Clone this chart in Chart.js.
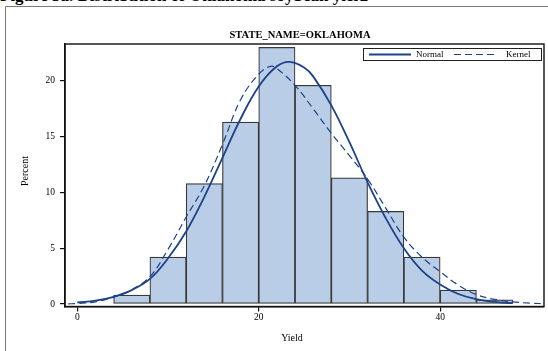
<!DOCTYPE html>
<html>
<head>
<meta charset="utf-8">
<script src="https://cdn.jsdelivr.net/npm/chart.js@4"></script>
<style>
  body { margin: 0; background: #fff; overflow: hidden; }
  #wrap { position: relative; width: 548px; height: 351px; }
  #caption {
    position: absolute; left: 0; top: -14px; white-space: nowrap;
    font: bold 17px "Liberation Serif", serif; color: #000;
  }
  canvas { position: absolute; left: 0; top: 0; }
</style>
</head>
<body>
<div id="wrap">
  <div id="caption">Figure 5a. Distribution of Oklahoma soybean yield</div>
  <canvas id="chart" width="548" height="351"></canvas>
</div>
<script>
// Histogram bins (midpoints) and percent per bin
const binMids = [6, 10, 14, 18, 22, 26, 30, 34, 38, 42, 46];
const binPercent = [0.8, 4.2, 10.8, 16.3, 23.0, 19.6, 11.3, 8.3, 4.2, 1.25, 0.38];

// Normal curve
const normalX = [0, 2, 4, 6, 8, 10, 12, 14, 16, 18, 20, 22, 23.4, 25, 26, 28, 30, 32, 34, 36, 38, 40, 42, 44, 46, 48];
const normalY = [0.14, 0.3, 0.65, 1.25, 2.25, 4.1, 6.5, 9.6, 13.1, 16.6, 19.5, 21.3, 21.7, 21.2, 20.4, 17.8, 14.5, 10.9, 7.7, 5.0, 3.0, 1.75, 0.9, 0.45, 0.2, 0.08];

// Kernel curve
const kernelX = [-1, 0, 2, 4, 6, 8, 10, 12, 14, 16, 18, 20, 21.3, 22, 24, 26, 28, 30, 32, 34, 36, 38, 40, 42, 44, 46, 48, 50, 51.4];
const kernelY = [0.02, 0.05, 0.2, 0.62, 1.3, 2.45, 4.9, 7.8, 10.6, 14.3, 18.3, 20.6, 21.3, 21.1, 19.6, 17.5, 15.3, 13.3, 11.2, 8.6, 6.0, 4.2, 2.9, 1.7, 0.85, 0.42, 0.2, 0.07, 0.04];

const xTicks = [0, 20, 40];
const yTicks = [0, 5, 10, 15, 20];

const chartTitle = 'STATE_NAME=OKLAHOMA';
const xTitle = 'Yield';
const yTitle = 'Percent';

const curveColor = '#1c4289';
const serif = '"Liberation Serif", "Times New Roman", serif';

const pts = (xs, ys) => xs.map((x, i) => ({ x: x, y: ys[i] }));

// frame, titles and legend drawn on top of the chart
const decor = {
  id: 'decor',
  afterDraw(chart) {
    const ctx = chart.ctx;
    const a = chart.chartArea;
    ctx.save();
    // outer figure frame
    ctx.strokeStyle = '#7a7a7a';
    ctx.lineWidth = 1;
    ctx.beginPath();
    ctx.moveTo(5.5, 351);
    ctx.lineTo(5.5, 6.5);
    ctx.lineTo(548, 6.5);
    ctx.stroke();
    // plot frame
    ctx.strokeStyle = '#111';
    ctx.lineWidth = 1.4;
    ctx.strokeRect(a.left, a.top, a.right - a.left, a.bottom - a.top);

    ctx.fillStyle = '#000';
    ctx.textAlign = 'center';
    ctx.textBaseline = 'middle';
    ctx.font = 'bold 10.5px ' + serif;
    ctx.fillText(chartTitle, 300, 35);
    ctx.font = '10px ' + serif;
    ctx.fillText(xTitle, 292, 338);
    ctx.save();
    ctx.translate(25, 171);
    ctx.rotate(-Math.PI / 2);
    ctx.fillText(yTitle, 0, 0);
    ctx.restore();

    // legend
    ctx.fillStyle = '#fff';
    ctx.fillRect(363, 48.5, 178, 12);
    ctx.strokeStyle = '#222';
    ctx.lineWidth = 1;
    ctx.strokeRect(363.5, 48.5, 178, 12);
    ctx.strokeStyle = curveColor;
    ctx.lineWidth = 1.8;
    ctx.beginPath();
    ctx.moveTo(369, 54.5);
    ctx.lineTo(411, 54.5);
    ctx.stroke();
    ctx.lineWidth = 1.2;
    ctx.setLineDash([7, 4]);
    ctx.beginPath();
    ctx.moveTo(454, 54.5);
    ctx.lineTo(498, 54.5);
    ctx.stroke();
    ctx.setLineDash([]);
    ctx.fillStyle = '#000';
    ctx.font = '9px ' + serif;
    ctx.textAlign = 'left';
    ctx.fillText('Normal', 416, 55);
    ctx.fillText('Kernel', 506, 55);
    ctx.restore();
  }
};

new Chart(document.getElementById('chart'), {
  type: 'bar',
  data: {
    datasets: [
      {
        type: 'line',
        label: 'Normal',
        data: pts(normalX, normalY),
        borderColor: curveColor,
        borderWidth: 1.8,
        pointRadius: 0,
        fill: false,
        tension: 0.4,
        order: 0
      },
      {
        type: 'line',
        label: 'Kernel',
        data: pts(kernelX, kernelY),
        borderColor: curveColor,
        borderWidth: 1.2,
        borderDash: [7, 4],
        pointRadius: 0,
        fill: false,
        tension: 0.4,
        order: 1
      },
      {
        label: 'Percent',
        data: pts(binMids, binPercent),
        backgroundColor: '#b9cde6',
        borderColor: '#383838',
        borderWidth: 1.2,
        borderSkipped: false,
        barPercentage: 1,
        categoryPercentage: 1,
        grouped: false,
        order: 2
      }
    ]
  },
  options: {
    responsive: false,
    animation: false,
    layout: { padding: { top: 44, right: 4, left: 0, bottom: 0 } },
    plugins: {
      legend: { display: false },
      tooltip: { enabled: false }
    },
    scales: {
      x: {
        type: 'linear',
        min: -1.36,
        max: 51.45,
        offset: false,
        afterFit: (s) => { s.height = 44.5; },
        afterBuildTicks: (s) => { s.ticks = xTicks.map(v => ({ value: v })); },
        grid: { display: true, offset: false, drawOnChartArea: false, drawTicks: true, tickLength: 5, color: '#111', lineWidth: 1.2 },
        border: { display: true, color: '#111', width: 1.4 },
        ticks: { color: '#000', padding: 0, maxRotation: 0, font: { family: serif, size: 9.5 } }
      },
      y: {
        min: -0.22,
        max: 23.3,
        afterFit: (s) => { s.width = 65; },
        afterBuildTicks: (s) => { s.ticks = yTicks.map(v => ({ value: v })); },
        grid: { display: true, drawOnChartArea: false, drawTicks: true, tickLength: 5, color: '#111', lineWidth: 1.2 },
        border: { display: true, color: '#111', width: 1.4 },
        ticks: { color: '#000', padding: 5, font: { family: serif, size: 9.5 } }
      }
    }
  },
  plugins: [decor]
});
</script>
</body>
</html>
